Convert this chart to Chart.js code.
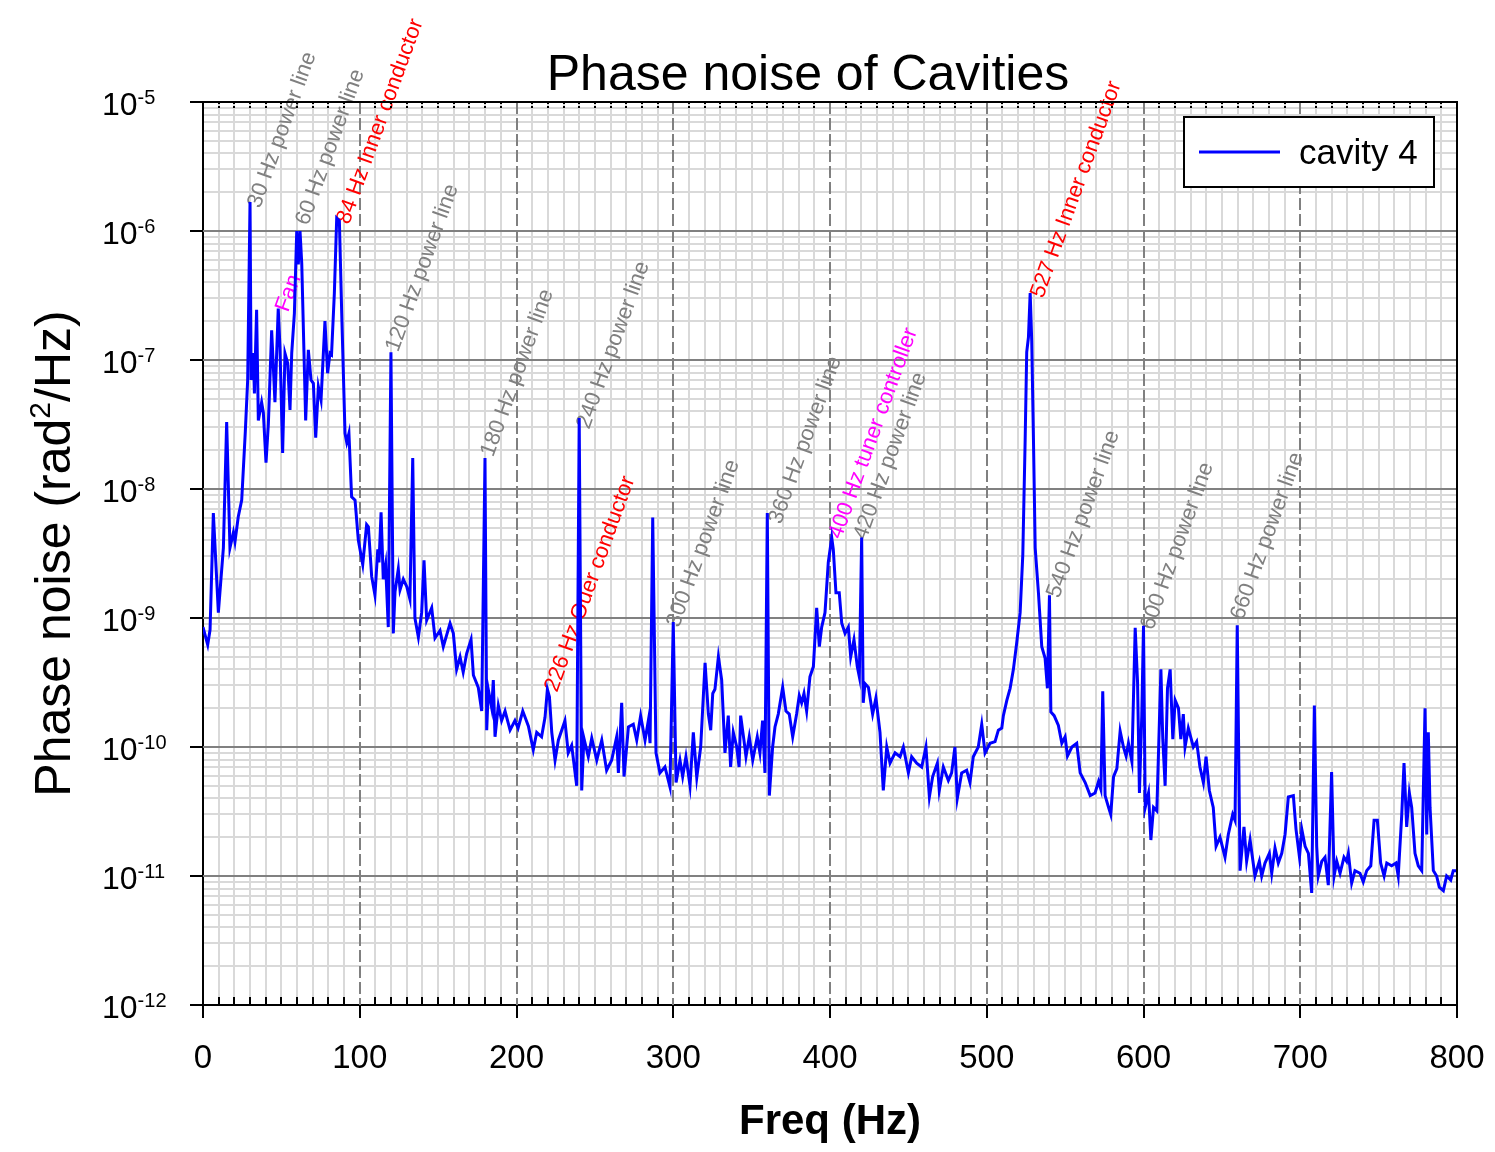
<!DOCTYPE html>
<html><head><meta charset="utf-8">
<script src="https://cdn.jsdelivr.net/npm/chart.js@4.4.1/dist/chart.umd.min.js"></script>
<style>html,body{margin:0;padding:0;background:#fff;}canvas{display:block;}</style>
</head><body>
<canvas id="c" width="1495" height="1152"></canvas>
<script>
// ---------- texts ----------
const chartTitle = 'Phase noise of Cavities';
const xTitle = 'Freq (Hz)';
const yTitleMain = 'Phase noise (rad';
const yTitleSup = '2';
const yTitleEnd = '/Hz)';
const seriesLabel = 'cavity 4';

// ---------- axes ----------
const xMin = 0, xMax = 800;
const xMajorTicks = [0, 100, 200, 300, 400, 500, 600, 700, 800];
const xMinorStep = 10;
const yDecadeExponents = [-12, -11, -10, -9, -8, -7, -6, -5];
const yMantissas = [1, 2, 3, 4, 5, 6, 7, 8, 9];

// ---------- data ----------
const freqHz = [
  0, 3, 4.5, 6.6, 9.8, 13, 15.1, 17.2, 19.4, 20.4,
  22.5, 24.7, 27, 28.5, 30, 30.7, 32.1, 32.8, 34.2, 35.3,
  37.4, 38.5, 40.2, 41.7, 43.8, 45.9, 48, 49.1, 50.8, 52.3,
  54, 55.5, 56.6, 58.3, 59.8, 60.8, 61.9, 63, 65.5, 67.2,
  68.9, 70.4, 71.9, 73.6, 75.3, 77.8, 79.5, 81, 82, 83.8,
  85.3, 87, 88.5, 90.6, 91.7, 93.1, 94.8, 97, 99.1, 101.9,
  104.4, 105.5, 107.6, 109.7, 111.5, 112.3, 113.6, 115, 116.5, 118.2,
  119.9, 121.4, 122.5, 124.6, 125.7, 127.8, 130, 132, 133.8, 135.2,
  137.4, 139.5, 141, 142.7, 145.9, 148, 151.2, 153.3, 157.6, 159.7,
  161.8, 164, 166, 168.2, 171, 172.5, 175.6, 177.8, 179.9, 181,
  182, 184.2, 185.2, 186.3, 188.4, 190.5, 192.7, 195.9, 199, 201,
  204, 207.6, 210.7, 212.9, 216, 218.2, 219.7, 221, 222.5, 224.6,
  226.7, 230.9, 233, 235.2, 238.4, 240, 241.6, 243, 245.8, 248,
  251.2, 254.4, 257.5, 260.7, 263.9, 265, 267.1, 268.6, 271.4, 274.5,
  276.7, 279.2, 282, 284.1, 285.2, 286.9, 289, 291.5, 294.7, 297.9,
  300, 301.8, 304.3, 306, 308.1, 310.7, 312.8, 315, 317.5, 320.3,
  322.4, 323.9, 325.2, 326.6, 328.8, 330.9, 333, 335.1, 336.6, 338.3,
  340.5, 342, 343, 345.1, 346.4, 348.5, 350.7, 353.6, 355.3, 357,
  358.5, 360, 361.3, 363.4, 364.9, 367, 369.8, 371.9, 374, 376.2,
  378.7, 380.4, 381.9, 383.4, 385.1, 387.2, 389.4, 391.5, 393.2, 394.7,
  396.8, 398.9, 401.1, 402.1, 403.8, 405.9, 407.5, 409.6, 411.7, 413.2,
  415.3, 417.4, 418.7, 420.2, 421.2, 422.3, 424.5, 427.2, 429.3, 431.9,
  434, 436.2, 438.3, 441.5, 444.7, 446.8, 450, 452.1, 455.3, 458.5,
  461.2, 463.4, 465.5, 468.5, 469.7, 472.3, 475.5, 477.6, 479.7, 481.2,
  484, 487.2, 489.3, 491.4, 494.6, 496.8, 498.9, 502.1, 505.3, 507.4,
  509.6, 510.6, 512.8, 514.9, 517, 519.1, 521.3, 523, 524.5, 525.5,
  526.6, 527.7, 528.7, 529.8, 530.9, 533, 535.1, 537.2, 538.7, 540,
  540.9, 543, 545.7, 547.9, 550, 551.5, 554.3, 557.4, 559.6, 562.8,
  566, 569.1, 571.3, 572.8, 574, 575.5, 577.7, 579.1, 580.9, 583,
  585.1, 587.2, 588.9, 590.4, 592.6, 594.7, 596.2, 597.4, 598.9, 600,
  601.1, 603.2, 604.7, 606.4, 608.5, 611.1, 612.3, 613.8, 615.3, 617,
  618.7, 620.2, 622.3, 623.8, 625.4, 626.5, 628.6, 631.8, 633.9, 636,
  638.2, 639.9, 642, 644.5, 646.3, 648.8, 652, 654.1, 656.9, 658.4,
  659.8, 661.6, 664.1, 665.8, 668, 671.1, 673.9, 675.4, 677.5, 680.3,
  681.8, 683.9, 686, 688.2, 690.3, 692.4, 695.6, 697.3, 699.5, 701,
  703.1, 705.2, 707.3, 709, 710.5, 711.5, 713.7, 715.8, 717.9, 720,
  721.6, 723.3, 725.4, 727.9, 729.6, 730.7, 732.8, 734.9, 738.1, 740.2,
  742.4, 745, 747.1, 749.2, 751.3, 753.5, 755.2, 758.3, 761.1, 762.5,
  764.7, 766.2, 767.9, 769.6, 771.1, 773.2, 775.3, 777.5, 779.6, 780.7,
  781.7, 782.8, 784.9, 787, 788.7, 791.3, 793.4, 796, 797.6, 800
];
const phaseNoise = [
  8.5e-10, 6.2e-10, 8.1e-10, 6.5e-9, 1.1e-9, 3.5e-9, 3.3e-8, 3.5e-9, 4.6e-9, 3.9e-9,
  6.1e-9, 8.2e-9, 2.8e-8, 7e-8, 1.68e-6, 7e-8, 1.13e-7, 5.5e-8, 2.45e-7, 3.4e-8,
  4.7e-8, 3.9e-8, 1.6e-8, 3.2e-8, 1.7e-7, 4.7e-8, 2.5e-7, 1.26e-7, 1.9e-8, 1.13e-7,
  9.5e-8, 4.1e-8, 1.13e-7, 2.3e-7, 1.0e-6, 5.5e-7, 1.0e-6, 5.6e-7, 3.4e-8, 1.2e-7,
  7e-8, 6.6e-8, 2.5e-8, 6.2e-8, 4.9e-8, 2.0e-7, 7.9e-8, 1.13e-7, 1.1e-7, 3.3e-7,
  1.26e-6, 1.2e-6, 2.3e-7, 2.7e-8, 2.3e-8, 2.7e-8, 8.7e-9, 8.2e-9, 4e-9, 2.6e-9,
  5.3e-9, 5.1e-9, 2.1e-9, 1.5e-9, 3.4e-9, 2.7e-9, 6.6e-9, 2.0e-9, 2.6e-9, 8.5e-10,
  1.15e-7, 7.6e-10, 1.6e-9, 2.4e-9, 1.65e-9, 2e-9, 1.75e-9, 1.4e-9, 1.74e-8, 1.0e-9,
  7.1e-10, 1.1e-9, 2.8e-9, 9.6e-10, 1.2e-9, 7e-10, 8e-10, 6e-10, 9.1e-10, 7.6e-10,
  4e-10, 5e-10, 3.8e-10, 5.3e-10, 6.8e-10, 3.6e-10, 2.9e-10, 1.9e-10, 1.74e-8, 1.35e-10,
  2.8e-10, 2e-10, 3.3e-10, 1.2e-10, 2.1e-10, 1.6e-10, 1.9e-10, 1.35e-10, 1.6e-10, 1.4e-10,
  1.9e-10, 1.45e-10, 9.5e-11, 1.3e-10, 1.2e-10, 1.7e-10, 2.8e-10, 2.45e-10, 1.3e-10, 7.9e-11,
  1.13e-10, 1.6e-10, 9e-11, 1.03e-10, 5e-11, 3.55e-8, 4.6e-11, 1.17e-10, 8.4e-11, 1.17e-10,
  7.9e-11, 1.13e-10, 6.6e-11, 7.9e-11, 1.2e-10, 6.3e-11, 2.2e-10, 5.9e-11, 1.43e-10, 1.5e-10,
  1.13e-10, 1.75e-10, 1.13e-10, 1.6e-10, 1.07e-10, 6e-9, 9e-11, 6.3e-11, 7e-11, 4.9e-11,
  9.3e-10, 5.3e-11, 7.9e-11, 5.9e-11, 8.4e-11, 5e-11, 1.3e-10, 5.8e-11, 1e-10, 4.5e-10,
  1.8e-10, 1.35e-10, 2.6e-10, 2.8e-10, 5e-10, 3.3e-10, 9e-11, 1.75e-10, 7e-11, 1.3e-10,
  1e-10, 7e-11, 1.75e-10, 1.13e-10, 8.4e-11, 1.2e-10, 7.9e-11, 1.2e-10, 9e-11, 1.6e-10,
  6.3e-11, 6.5e-9, 4.2e-11, 1e-10, 1.43e-10, 1.8e-10, 2.9e-10, 1.9e-10, 1.8e-10, 1.2e-10,
  1.8e-10, 2.5e-10, 2.2e-10, 2.6e-10, 1.9e-10, 3.5e-10, 4.2e-10, 1.2e-9, 6e-10, 8.5e-10,
  1.1e-9, 2.7e-9, 4.2e-9, 3.4e-9, 1.57e-9, 1.57e-9, 9.1e-10, 7.6e-10, 8.5e-10, 5e-10,
  6.8e-10, 4.2e-10, 3.5e-10, 4.2e-9, 2.2e-10, 3.1e-10, 2.9e-10, 1.8e-10, 2.4e-10, 1.3e-10,
  4.6e-11, 1e-10, 7.5e-11, 9e-11, 8.4e-11, 1e-10, 6.3e-11, 8.4e-11, 7.5e-11, 7e-11,
  1e-10, 4.1e-11, 5.9e-11, 7.5e-11, 4.6e-11, 7e-11, 5.5e-11, 6.3e-11, 1e-10, 4e-11,
  6.3e-11, 6.6e-11, 5.3e-11, 8.4e-11, 1e-10, 1.5e-10, 9e-11, 1.07e-10, 1.1e-10, 1.35e-10,
  1.4e-10, 1.75e-10, 2.3e-10, 2.85e-10, 4e-10, 6.4e-10, 1.1e-9, 3.1e-9, 2.4e-8, 1.15e-7,
  1.5e-7, 3.3e-7, 1.4e-7, 2.4e-8, 3.5e-9, 1.55e-9, 6e-10, 4.9e-10, 2.85e-10, 1.5e-9,
  1.87e-10, 1.75e-10, 1.47e-10, 1.07e-10, 1.2e-10, 8.5e-11, 1e-10, 1.07e-10, 6.3e-11, 5.3e-11,
  4.2e-11, 4.4e-11, 5.4e-11, 4.7e-11, 2.7e-10, 4.2e-11, 3.4e-11, 3e-11, 5.9e-11, 6.8e-11,
  1.33e-10, 1e-10, 8.5e-11, 1.07e-10, 7.7e-11, 8.4e-10, 3.2e-10, 4.4e-11, 1.75e-10, 8.7e-10,
  3.4e-11, 4.4e-11, 1.9e-11, 3.4e-11, 3.2e-11, 4e-10, 1.15e-10, 5e-11, 2.85e-10, 4e-10,
  1.15e-10, 2.3e-10, 2e-10, 1.15e-10, 1.8e-10, 1e-10, 1.4e-10, 1e-10, 1.1e-10, 7e-11,
  5.3e-11, 8.4e-11, 4.6e-11, 3.4e-11, 1.7e-11, 2e-11, 1.4e-11, 2.1e-11, 3e-11, 2.7e-11,
  8.8e-10, 1.1e-11, 2.4e-11, 1.3e-11, 1.9e-11, 1e-11, 1.3e-11, 1e-11, 1.26e-11, 1.5e-11,
  1.05e-11, 1.65e-11, 1.26e-11, 1.5e-11, 2.1e-11, 4.1e-11, 4.2e-11, 2.3e-11, 1.4e-11, 2.3e-11,
  1.7e-11, 1.5e-11, 7.4e-12, 2.1e-10, 1.7e-11, 1e-11, 1.3e-11, 1.4e-11, 8.5e-12, 6.4e-11,
  1e-11, 1.3e-11, 1.05e-11, 1.4e-11, 1.3e-11, 1.5e-11, 8.8e-12, 1.1e-11, 1.05e-11, 9e-12,
  1.1e-11, 1.2e-11, 2.7e-11, 2.7e-11, 1.26e-11, 1e-11, 1.26e-11, 1.2e-11, 1.26e-11, 1e-11,
  2.9e-11, 7.5e-11, 2.4e-11, 4.4e-11, 3.4e-11, 1.5e-11, 1.2e-11, 1.1e-11, 2.0e-10, 2.1e-11,
  1.3e-10, 3.4e-11, 1.1e-11, 1e-11, 8.2e-12, 7.7e-12, 1e-11, 9.3e-12, 1.1e-11, 1.1e-11
];

// ---------- annotations (anchored in data coordinates) ----------
const annoText = ['30 Hz power line', '60 Hz power line', '84 Hz Inner conductor', 'Fan',
  '120 Hz power line', '180 Hz power line', '240 Hz power line', '226 Hz Ouer conductor',
  '300 Hz power line', '360 Hz power line', '400 Hz tuner controller', '420 Hz power line',
  '527 Hz Inner conductor', '540 Hz power line', '600 Hz power line', '660 Hz power line'];
const annoFreq = [32.5, 63.2, 89.3, 50.4, 120.6, 181.2, 242.4, 222, 299.8, 364.9, 403.2, 419.1, 532, 542.3, 602.2, 659.6];
const annoValue = [1.56e-6, 1.15e-6, 1.17e-6, 2.44e-7, 1.2e-7, 1.84e-8, 3.03e-8, 2.77e-10, 8.8e-10, 5.55e-9, 4.25e-9, 4.17e-9, 3.13e-7, 1.48e-9, 8.36e-10, 1e-9];
const annoColor = ['#808080', '#808080', '#ff0000', '#ff00ff', '#808080', '#808080', '#808080', '#ff0000',
  '#808080', '#808080', '#ff00ff', '#808080', '#ff0000', '#808080', '#808080', '#808080'];

const FONT = '"Liberation Sans", Arial, Helvetica, sans-serif';
const isXMajor = v => xMajorTicks.includes(v);

const decor = {
  id: 'decor',
  beforeDatasetsDraw(chart) {
    const { ctx, chartArea: a, scales: { x, y } } = chart;
    ctx.save();
    ctx.lineWidth = 2;
    ctx.strokeStyle = '#808080';
    ctx.setLineDash([12, 4]);
    xMajorTicks.forEach(v => {
      if (v <= xMin || v >= xMax) return;
      const px = Math.round(x.getPixelForValue(v));
      ctx.beginPath(); ctx.moveTo(px, a.top); ctx.lineTo(px, a.bottom); ctx.stroke();
    });
    ctx.setLineDash([]);
    yDecadeExponents.forEach(e => {
      const v = Number('1e' + e);
      const py = Math.round(y.getPixelForValue(v));
      if (py <= a.top + 1 || py >= a.bottom - 1) return;
      ctx.beginPath(); ctx.moveTo(a.left, py); ctx.lineTo(a.right, py); ctx.stroke();
    });
    // annotations
    ctx.font = '22px ' + FONT;
    ctx.textAlign = 'left';
    ctx.textBaseline = 'alphabetic';
    annoText.forEach((t, i) => {
      const px = x.getPixelForValue(annoFreq[i]) + 6;
      const py = y.getPixelForValue(annoValue[i]) + 3;
      ctx.save();
      ctx.translate(px, py);
      ctx.rotate(-70 * Math.PI / 180);
      ctx.fillStyle = annoColor[i];
      ctx.fillText(t, 0, 0);
      ctx.restore();
    });
    ctx.restore();
  },
  afterDraw(chart) {
    const { ctx, chartArea: a, scales: { x, y } } = chart;
    ctx.save();
    // frame top/right
    ctx.strokeStyle = '#000';
    ctx.lineWidth = 2;
    ctx.beginPath();
    ctx.moveTo(a.left - 1, a.top); ctx.lineTo(a.right, a.top); ctx.lineTo(a.right, a.bottom + 1);
    ctx.stroke();
    // minor ticks: bottom inward, top dotted
    for (let v = xMin + xMinorStep; v < xMax; v += xMinorStep) {
      if (isXMajor(v)) continue;
      const px = Math.round(x.getPixelForValue(v));
      ctx.setLineDash([]);
      ctx.beginPath(); ctx.moveTo(px, a.bottom); ctx.lineTo(px, a.bottom - 8); ctx.stroke();
      ctx.setLineDash([2, 2]);
      ctx.beginPath(); ctx.moveTo(px, a.top); ctx.lineTo(px, a.top + 8); ctx.stroke();
    }
    ctx.setLineDash([]);
    // y tick labels with superscripts
    ctx.fillStyle = '#000';
    ctx.textAlign = 'left';
    ctx.textBaseline = 'alphabetic';
    yDecadeExponents.forEach(e => {
      const py = y.getPixelForValue(Number('1e' + e));
      ctx.font = '32px ' + FONT;
      const w = ctx.measureText('10').width;
      ctx.fillText('10', 102, py + 13);
      ctx.font = '20px ' + FONT;
      ctx.fillText(String(e), 102 + w, py + 2);
    });
    // legend
    const ds = chart.data.datasets[0];
    const lx = a.right - 273, ly = a.top + 15, lw = 250, lh = 70;
    ctx.fillStyle = '#fff';
    ctx.fillRect(lx, ly, lw, lh);
    ctx.strokeStyle = '#000';
    ctx.lineWidth = 2;
    ctx.strokeRect(lx, ly, lw, lh);
    ctx.strokeStyle = ds.borderColor;
    ctx.lineWidth = 3;
    ctx.beginPath(); ctx.moveTo(lx + 15, ly + 35); ctx.lineTo(lx + 96, ly + 35); ctx.stroke();
    ctx.fillStyle = '#000';
    ctx.font = '35px ' + FONT;
    ctx.textBaseline = 'middle';
    ctx.fillText(ds.label, lx + 115, ly + 37);
    // chart title
    ctx.textBaseline = 'alphabetic';
    ctx.textAlign = 'center';
    ctx.font = '50px ' + FONT;
    ctx.fillText(chartTitle, 808, 90);
    // x title
    ctx.font = 'bold 42px ' + FONT;
    ctx.fillText(xTitle, (a.left + a.right) / 2, 1134);
    // y title with superscript
    ctx.save();
    ctx.translate(70, (a.top + a.bottom) / 2);
    ctx.rotate(-Math.PI / 2);
    ctx.textAlign = 'left';
    ctx.font = '50px ' + FONT;
    const w1 = ctx.measureText(yTitleMain).width;
    const w3 = ctx.measureText(yTitleEnd).width;
    ctx.font = '30px ' + FONT;
    const w2 = ctx.measureText(yTitleSup).width;
    const start = -(w1 + w2 + w3) / 2;
    ctx.font = '50px ' + FONT;
    ctx.fillText(yTitleMain, start, 0);
    ctx.fillText(yTitleEnd, start + w1 + w2, 0);
    ctx.font = '30px ' + FONT;
    ctx.fillText(yTitleSup, start + w1, -20);
    ctx.restore();
    ctx.restore();
  }
};

const yTickValues = [];
yDecadeExponents.forEach(e => {
  yMantissas.forEach(m => {
    if (e === yDecadeExponents[yDecadeExponents.length - 1] && m > 1) return;
    yTickValues.push({ value: Number(m + 'e' + e), major: m === 1 });
  });
});
const xTickList = [];
for (let v = xMin; v <= xMax; v += xMinorStep) xTickList.push({ value: v, major: isXMajor(v) });

new Chart(document.getElementById('c'), {
  type: 'line',
  data: {
    datasets: [{
      label: seriesLabel,
      data: freqHz.map((f, i) => ({ x: f, y: phaseNoise[i] })),
      borderColor: '#0000ff',
      borderWidth: 3,
      pointRadius: 0,
      tension: 0,
      fill: false
    }]
  },
  options: {
    responsive: false,
    animation: false,
    devicePixelRatio: 1,
    layout: { padding: { top: 102, right: 38, left: 0, bottom: 0 } },
    plugins: { legend: { display: false }, title: { display: false }, tooltip: { enabled: false } },
    scales: {
      x: {
        type: 'linear', min: xMin, max: xMax,
        afterBuildTicks: s => { s.ticks = xTickList.map(t => ({ ...t })); },
        afterFit: s => { s.height = 147; s.paddingLeft = 0; s.paddingRight = 0; },
        grid: {
          color: c => (c.tick && c.tick.major) ? 'rgba(0,0,0,0)' : '#d9d9d9',
          lineWidth: 2,
          drawTicks: true,
          tickLength: 13,
          tickWidth: 2,
          tickColor: c => (c.tick && c.tick.major) ? '#000' : 'rgba(0,0,0,0)'
        },
        border: { display: true, color: '#000', width: 2 },
        ticks: {
          autoSkip: false, maxRotation: 0, minRotation: 0, padding: 21,
          color: '#000', font: { size: 33, family: FONT },
          callback: v => isXMajor(v) ? String(v) : ''
        }
      },
      y: {
        type: 'logarithmic', min: 1e-12, max: 1e-5,
        afterBuildTicks: s => { s.ticks = yTickValues.map(t => ({ ...t })); },
        afterFit: s => { s.width = 203; s.paddingTop = 0; s.paddingBottom = 0; },
        grid: {
          color: c => (c.tick && c.tick.major) ? 'rgba(0,0,0,0)' : '#d9d9d9',
          lineWidth: 2,
          drawTicks: true,
          tickLength: 13,
          tickWidth: 2,
          tickColor: c => (c.tick && c.tick.major) ? '#000' : 'rgba(0,0,0,0)'
        },
        border: { display: true, color: '#000', width: 2 },
        ticks: { display: false }
      }
    }
  },
  plugins: [decor]
});
</script>
</body></html>
